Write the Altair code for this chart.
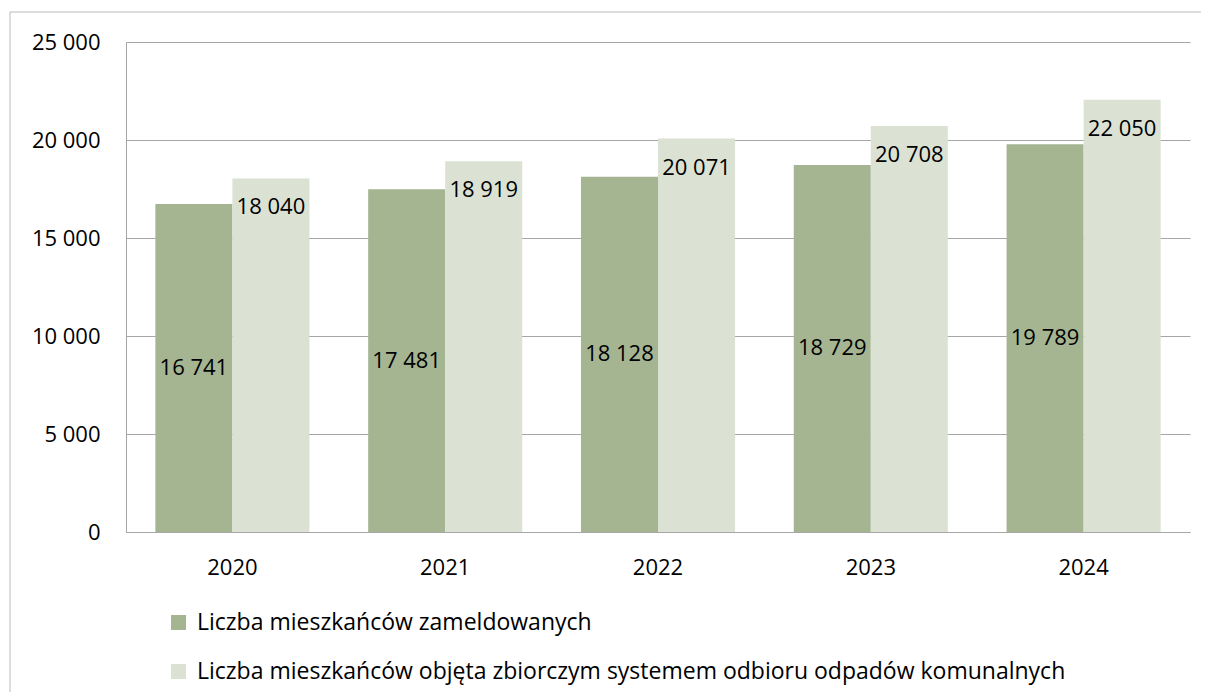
import altair as alt
import pandas as pd

years = ["2020", "2021", "2022", "2023", "2024"]
zameldowani = [16741, 17481, 18128, 18729, 19789]
objeci = [18040, 18919, 20071, 20708, 22050]
series = [
    "Liczba mieszkańców zameldowanych",
    "Liczba mieszkańców objęta zbiorczym systemem odbioru odpadów komunalnych",
]
colors = ["#A5B592", "#DBE2D4"]

rows = []
for y, a, b in zip(years, zameldowani, objeci):
    rows.append({"rok": y, "seria": series[0], "wartosc": a, "idx": 0})
    rows.append({"rok": y, "seria": series[1], "wartosc": b, "idx": 1})
df = pd.DataFrame(rows)
df["etykieta"] = df["wartosc"].map(lambda v: f"{v:,}".replace(",", " "))
df["polowa"] = df["wartosc"] / 2

FONT = "Open Sans"
FS = 22
W, H = 1064, 490

x = alt.X("rok:N", title=None,
          scale=alt.Scale(paddingInner=0.276, paddingOuter=0.138),
          axis=alt.Axis(labelFontSize=FS, labelFont=FONT, labelColor="#000000",
                        labelPadding=25, ticks=False, domainColor="#A6A6A6",
                        labelAngle=0, grid=False))
xo = alt.XOffset("seria:N", sort=series, scale=alt.Scale(paddingInner=0, paddingOuter=0))

base = alt.Chart(df)

bars = base.mark_bar().encode(
    x=x,
    xOffset=xo,
    y=alt.Y("wartosc:Q", title=None,
            scale=alt.Scale(domain=[0, 25000], nice=False),
            axis=alt.Axis(values=[0, 5000, 10000, 15000, 20000, 25000],
                          labelExpr="replace(format(datum.value, ','), ',', ' ')",
                          labelFontSize=FS, labelFont=FONT, labelColor="#000000",
                          labelPadding=26, ticks=False, domainColor="#A6A6A6",
                          gridColor="#A6A6A6", gridWidth=1)),
    color=alt.Color("seria:N", sort=series,
                    scale=alt.Scale(domain=series, range=colors),
                    legend=alt.Legend(title=None, orient="none", legendX=41, legendY=569,
                                      direction="vertical", symbolType="square",
                                      symbolSize=225, symbolStrokeWidth=0,
                                      labelFontSize=23, labelFont=FONT,
                                      labelColor="#000000", labelOffset=7,
                                      rowPadding=25, padding=0, labelLimit=1100)),
)

lab_dark = base.transform_filter(alt.datum.idx == 0).mark_text(
    fontSize=FS, font=FONT, color="#000000", baseline="middle"
).encode(x=x, xOffset=xo, y=alt.Y("polowa:Q"), text="etykieta:N")

lab_light = base.transform_filter(alt.datum.idx == 1).mark_text(
    fontSize=FS, font=FONT, color="#000000", baseline="middle", dy=29
).encode(x=x, xOffset=xo, y=alt.Y("wartosc:Q"), text="etykieta:N")

frame_df = pd.DataFrame({"k": [0]})
frame_v = alt.Chart(frame_df).mark_rule(color="#BBBBBB", strokeWidth=1).encode(
    x=alt.value(-116), y=alt.value(-30), y2=alt.value(660))
frame_h = alt.Chart(frame_df).mark_rule(color="#BBBBBB", strokeWidth=1).encode(
    x=alt.value(-116), x2=alt.value(1075), y=alt.value(-30))

chart = alt.layer(bars, lab_dark, lab_light, frame_v, frame_h).properties(
    width=W, height=H,
    padding={"left": 118, "top": 34, "right": 11, "bottom": 160},
    autosize=alt.AutoSizeParams(type="none"),
    background="#FFFFFF",
).configure_view(stroke=None)

chart.save("out.html", embed_options={"renderer": "svg", "actions": False})
